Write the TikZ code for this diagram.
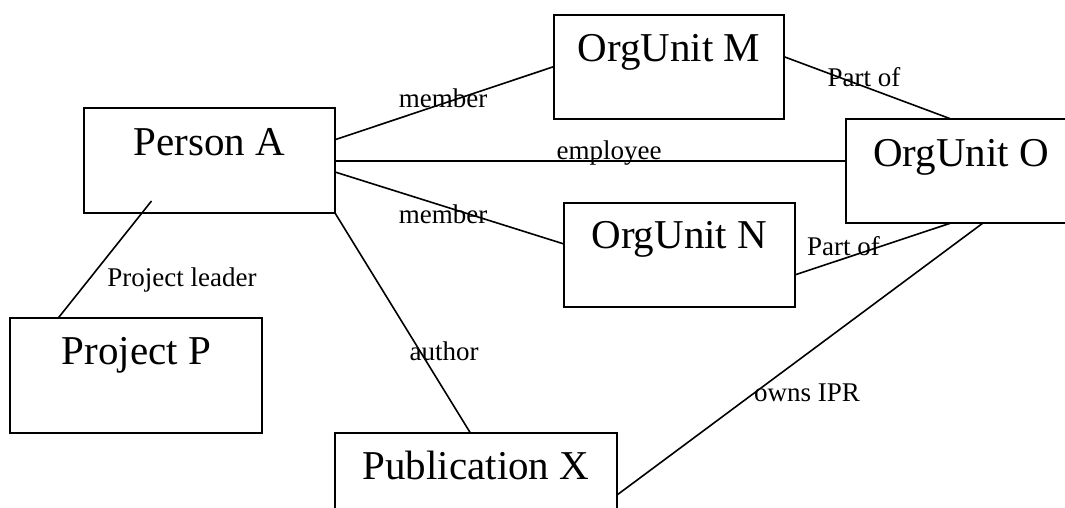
\documentclass[tikz,border=0pt]{standalone}
\usepackage{fontspec}
\setmainfont{Liberation Serif}
\begin{document}
\begin{tikzpicture}[x=1pt,y=-1pt,
  entity/.style={draw, line width=1.9pt, rectangle, anchor=north west, inner sep=0pt, outer sep=0pt,
     font=\fontsize{41}{41}\selectfont},
  rel/.style={line width=1.6pt},
  lbl/.style={anchor=base, inner sep=0pt, font=\fontsize{27}{27}\selectfont}]
\useasboundingbox (0,0) rectangle (1065,508);
\clip (0,0) rectangle (1065,508);
% entities
\node[entity, minimum width=251.3pt, text height=47pt, text depth=58pt] (pa) at (83.7,108) {Person A};
\node[entity, minimum width=252.1pt, text height=46.3pt, text depth=68.7pt] (pp) at (10.3,317.7) {Project P};
\node[entity, minimum width=230.4pt, text height=47pt, text depth=57.3pt] (om) at (553.6,14.7) {OrgUnit M};
\node[entity, minimum width=230.6pt, text height=44.7pt, text depth=59.3pt] (on) at (564,203.3) {OrgUnit N};
\node[entity, minimum width=230pt, text height=47pt, text depth=57pt] (oo) at (846,119) {OrgUnit O};
\node[entity, minimum width=282pt, text height=46pt, text depth=58pt] (px) at (335,433) {Publication X};
% relations
\draw[rel] ([yshift=-31.7pt]pa.north east) -- ([yshift=-52pt]om.north west);
\draw[rel] ([yshift=-53pt]pa.north east) -- ([yshift=-42pt]oo.north west);
\draw[rel] ([yshift=-64pt]pa.north east) -- ([yshift=-40.7pt]on.north west);
\draw[rel] (pa.south east) -- ([xshift=135.4pt]px.north west);
\draw[rel] ([xshift=67.8pt,yshift=12pt]pa.south west) -- ([xshift=48.2pt]pp.north west);
\draw[rel] ([yshift=-42pt]om.north east) -- ([xshift=105pt]oo.north west);
\draw[rel] ([yshift=-71.7pt]on.north east) -- ([xshift=105pt]oo.south west);
\draw[rel] ([yshift=-62pt]px.north east) -- ([xshift=137pt]oo.south west);
% labels
\node[lbl] (l1) at (443,108) {member};
\node[lbl] (l2) at (443,223) {member};
\node[lbl] (l3) at (609,159) {employee};
\node[lbl] (l4) at (864,87) {Part of};
\node[lbl] (l5) at (843.5,255) {Part of};
\node[lbl] (l6) at (182,286.7) {Project leader};
\node[lbl] (l7) at (444,360) {author};
\node[lbl] (l8) at (807,401.7) {owns IPR};
\end{tikzpicture}
\end{document}
